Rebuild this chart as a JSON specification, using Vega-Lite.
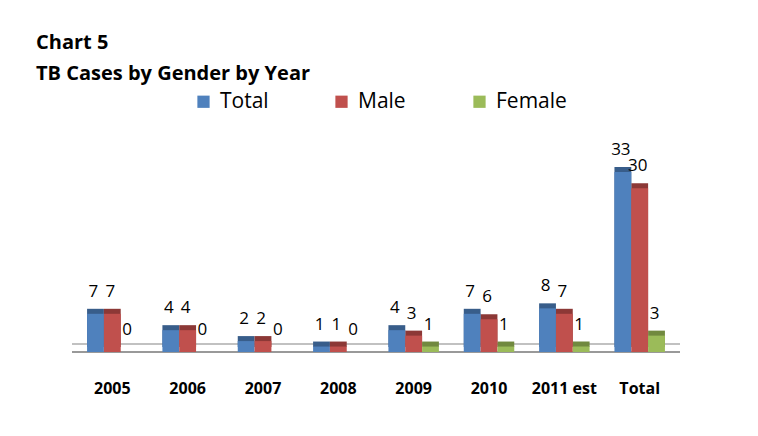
{
  "$schema": "https://vega.github.io/schema/vega-lite/v6.json",
  "autosize": {"type": "none"},
  "width": 608,
  "height": 191,
  "padding": {"left": 72, "top": 161, "right": 78, "bottom": 84},
  "background": "white",
  "title": {
    "text": ["Chart 5", "TB Cases by Gender by Year"],
    "anchor": "start",
    "frame": "group",
    "dx": -36,
    "font": "Open Sans",
    "fontSize": 20,
    "fontWeight": "bold",
    "lineHeight": 31,
    "color": "black",
    "offset": 7
  },
  "data": {
    "values": [
      {"cat": "2005", "series": "Total", "value": 7},
      {"cat": "2005", "series": "Male", "value": 7},
      {"cat": "2005", "series": "Female", "value": 0},
      {"cat": "2006", "series": "Total", "value": 4},
      {"cat": "2006", "series": "Male", "value": 4},
      {"cat": "2006", "series": "Female", "value": 0},
      {"cat": "2007", "series": "Total", "value": 2},
      {"cat": "2007", "series": "Male", "value": 2},
      {"cat": "2007", "series": "Female", "value": 0},
      {"cat": "2008", "series": "Total", "value": 1},
      {"cat": "2008", "series": "Male", "value": 1},
      {"cat": "2008", "series": "Female", "value": 0},
      {"cat": "2009", "series": "Total", "value": 4},
      {"cat": "2009", "series": "Male", "value": 3},
      {"cat": "2009", "series": "Female", "value": 1},
      {"cat": "2010", "series": "Total", "value": 7},
      {"cat": "2010", "series": "Male", "value": 6},
      {"cat": "2010", "series": "Female", "value": 1},
      {"cat": "2011 est", "series": "Total", "value": 8},
      {"cat": "2011 est", "series": "Male", "value": 7},
      {"cat": "2011 est", "series": "Female", "value": 1},
      {"cat": "Total", "series": "Total", "value": 33},
      {"cat": "Total", "series": "Male", "value": 30},
      {"cat": "Total", "series": "Female", "value": 3}
    ]
  },
  "encoding": {
    "x": {
      "field": "cat",
      "type": "nominal",
      "sort": ["2005", "2006", "2007", "2008", "2009", "2010", "2011 est", "Total"],
      "scale": {"paddingInner": 0.33, "paddingOuter": 0.2},
      "axis": {
        "title": null,
        "labelAngle": 0,
        "domain": false,
        "ticks": false,
        "labelFont": "Open Sans",
        "labelFontSize": 16,
        "labelFontWeight": "bold",
        "labelColor": "black",
        "labelPadding": 28
      }
    },
    "xOffset": {"field": "series", "type": "nominal", "sort": ["Total", "Male", "Female"]},
    "y": {
      "field": "value",
      "type": "quantitative",
      "scale": {"domain": [0, 35]},
      "axis": null
    }
  },
  "layer": [
    {
      "mark": {"type": "rule", "color": "#c0c0c0", "strokeWidth": 1.5, "yOffset": -8},
      "encoding": {"y": {"datum": 0}, "x": null, "xOffset": null}
    },
    {
      "mark": {"type": "rule", "color": "#999999", "strokeWidth": 2},
      "encoding": {"y": {"datum": 0}, "x": null, "xOffset": null}
    },
    {
      "mark": {"type": "bar", "yOffset": -5, "y2Offset": -5},
      "encoding": {
        "color": {
          "field": "series",
          "type": "nominal",
          "sort": ["Total", "Male", "Female"],
          "scale": {"domain": ["Total", "Male", "Female"], "range": ["#385D8A", "#8C3836", "#71893F"]},
          "legend": null
        }
      }
    },
    {
      "mark": {"type": "bar", "strokeWidth": 1},
      "encoding": {
        "color": {
          "field": "series",
          "type": "nominal",
          "sort": ["Total", "Male", "Female"],
          "scale": {"domain": ["Total", "Male", "Female"], "range": ["#4F81BD", "#C0504D", "#9BBB59"]},
          "legend": {
            "title": null,
            "orient": "none",
            "legendX": 121,
            "legendY": -70,
            "direction": "horizontal",
            "columns": 3,
            "gridAlign": "all",
            "columnPadding": 40,
            "symbolType": "square",
            "symbolSize": 150,
            "symbolStrokeWidth": 0,
            "labelFont": "Open Sans",
            "labelFontSize": 21,
            "labelColor": "black",
            "labelOffset": 6
          }
        }
      }
    },
    {
      "mark": {"type": "text", "dy": -22, "dx": -2, "font": "Open Sans", "fontSize": 17, "color": "black"},
      "encoding": {"text": {"field": "value", "type": "quantitative"}}
    }
  ],
  "resolve": {"scale": {"color": "independent"}},
  "config": {"view": {"stroke": null}}
}
